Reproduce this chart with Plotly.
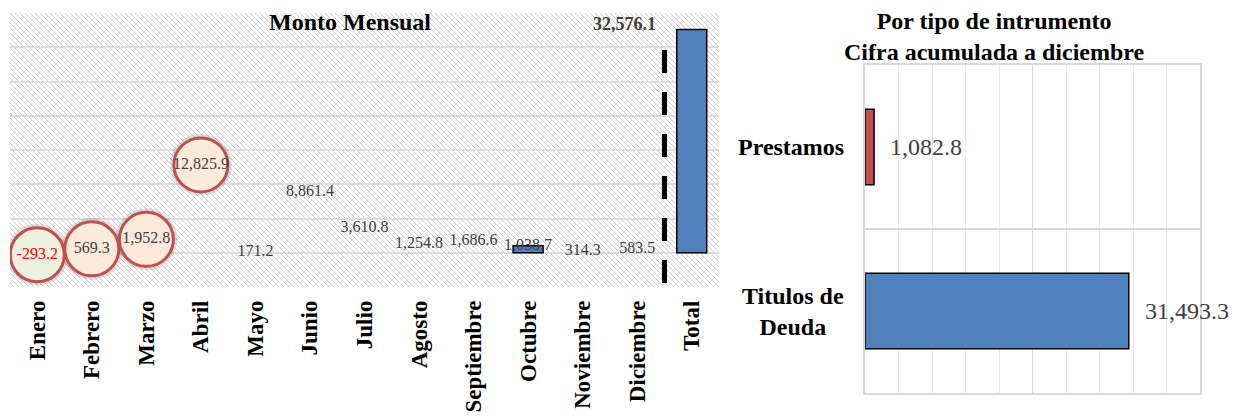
import base64
import textwrap
import plotly.graph_objects as go

# ---------------- data ----------------
meses = ["Enero", "Febrero", "Marzo", "Abril", "Mayo", "Junio", "Julio",
         "Agosto", "Septiembre", "Octubre", "Noviembre", "Diciembre"]
monto_mensual = [-293.2, 569.3, 1952.8, 12825.9, 171.2, 8861.4, 3610.8,
                 1254.8, 1686.6, 1038.7, 314.3, 583.5]
etiqueta_total = "Total"
monto_total = 32576.1
meses_resaltados = ["Enero", "Febrero", "Marzo", "Abril"]
mes_barra = "Octubre"

instrumentos = ["Prestamos", "Titulos de Deuda"]
monto_instrumento = [1082.8, 31493.3]

titulo_izq = "Monto Mensual"
titulo_der = "Por tipo de intrumento<br>Cifra acumulada a diciembre"

# ---------------- style ----------------
W, H = 1237, 417
OFF = 8  # browser body margin
FONT = "Liberation Serif, Times New Roman, serif"
BLUE = "#4F81BD"
RED = "#C0504D"
GRID = "#D9D9D9"
LBL = "#404040"

# left plot area in screen px
L_x0, L_x1, L_y0, L_y1 = 10, 719, 13, 287
# right plot area in screen px
R_x0, R_x1, R_y0, R_y1 = 865, 1200, 65, 393


def px_x(v):
    return (v - OFF) / W


def px_y(v):
    return 1 - (v - OFF) / H


fig = go.Figure()

# bars (only October and total visible)
cats = meses + [etiqueta_total]
vals = monto_mensual + [monto_total]
visible = [c == mes_barra or c == etiqueta_total for c in cats]
fig.add_trace(go.Bar(
    x=cats, y=vals, width=0.55,
    marker=dict(color=[BLUE if v else "rgba(0,0,0,0)" for v in visible],
                line=dict(color=["black" if v else "rgba(0,0,0,0)" for v in visible], width=1.5)),
    xaxis="x", yaxis="y", hoverinfo="skip", showlegend=False))

# circles
res_idx = [meses.index(m) for m in meses_resaltados]
fig.add_trace(go.Scatter(
    x=[meses[i] for i in res_idx], y=[monto_mensual[i] for i in res_idx],
    mode="markers",
    marker=dict(size=62, color="rgba(0,0,0,0.12)", line=dict(width=0)),
    xaxis="x", yaxis="y", hoverinfo="skip", showlegend=False))
fig.add_trace(go.Scatter(
    x=[meses[i] for i in res_idx], y=[monto_mensual[i] for i in res_idx],
    mode="markers",
    marker=dict(size=54,
                color=["#EBF1DE" if monto_mensual[i] < 0 else "#FDEADA" for i in res_idx],
                line=dict(color=RED, width=3)),
    xaxis="x", yaxis="y", hoverinfo="skip", showlegend=False))

# monthly labels
fig.add_trace(go.Scatter(
    x=meses, y=monto_mensual, mode="text",
    text=[f"{v:,.1f}" for v in monto_mensual],
    textposition="middle center",
    textfont=dict(family=FONT, size=16,
                  color=["#FF0000" if v < 0 else LBL for v in monto_mensual]),
    xaxis="x", yaxis="y", hoverinfo="skip", showlegend=False))

# right bars
fig.add_trace(go.Bar(
    y=instrumentos, x=monto_instrumento, orientation="h", width=0.46,
    marker=dict(color=[RED, BLUE], line=dict(color="black", width=1.5)),
    xaxis="x2", yaxis="y2", hoverinfo="skip", showlegend=False))

annotations = []
annotations.append(dict(
    x=etiqueta_total, y=monto_total, xref="x", yref="y",
    text=f"<b>{monto_total:,.1f}</b>", showarrow=False,
    xanchor="right", yanchor="middle", xshift=-34, yshift=6,
    font=dict(family=FONT, size=18, color=LBL)))
annotations.append(dict(
    x=px_x(350), y=px_y(22), xref="paper", yref="paper",
    text=f"<b>{titulo_izq}</b>", showarrow=False,
    xanchor="center", yanchor="middle",
    font=dict(family=FONT, size=24, color="black")))
annotations.append(dict(
    x=px_x(994), y=px_y(36), xref="paper", yref="paper",
    text=f"<b>{titulo_der}</b>", showarrow=False,
    xanchor="center", yanchor="middle", align="center",
    font=dict(family=FONT, size=24, color="black")))
for cat, v in zip(instrumentos, monto_instrumento):
    annotations.append(dict(
        x=v, y=cat, xref="x2", yref="y2", text=f"{v:,.1f}",
        showarrow=False, xanchor="left", yanchor="middle", xshift=14,
        font=dict(family=FONT, size=24, color=LBL)))
    annotations.append(dict(
        x=px_x(846), y=cat, xref="paper", yref="y2",
        text="<b>" + "<br>".join(textwrap.wrap(cat, 10)) + "</b>",
        showarrow=False, xanchor="right", yanchor="middle", align="center",
        font=dict(family=FONT, size=24, color="black")))

# hatch background as svg image
pw, ph = L_x1 - L_x0, L_y1 - L_y0
svg = (f'<svg xmlns="http://www.w3.org/2000/svg" width="{pw}" height="{ph}">'
       '<defs><pattern id="p" patternUnits="userSpaceOnUse" width="5" height="5">'
       '<path d="M-1,-1 L6,6 M-1,4 L1,6 M4,-1 L6,1" stroke="#D0D0D0" stroke-width="1"/>'
       '</pattern></defs>'
       f'<rect width="{pw}" height="{ph}" fill="white"/>'
       f'<rect width="{pw}" height="{ph}" fill="url(#p)"/></svg>')
src = "data:image/svg+xml;base64," + base64.b64encode(svg.encode()).decode()

fig.update_layout(
    width=W, height=H,
    margin=dict(l=0, r=0, t=0, b=0),
    paper_bgcolor="white", plot_bgcolor="rgba(0,0,0,0)",
    font=dict(family=FONT),
    showlegend=False,
    barmode="overlay",
    images=[dict(source=src, xref="paper", yref="paper",
                 x=px_x(L_x0), y=px_y(L_y0), sizex=pw / W, sizey=ph / H,
                 xanchor="left", yanchor="top", sizing="stretch", layer="below")],
    xaxis=dict(domain=[px_x(L_x0), px_x(L_x1)], type="category",
               categoryorder="array", categoryarray=cats,
               range=[-0.5, len(cats) - 0.5],
               tickangle=-90, showgrid=False, zeroline=False, showline=False,
               ticks="", ticklabelstandoff=8,
               tickfont=dict(family=FONT, size=23, color="black", weight="bold")),
    yaxis=dict(domain=[px_y(L_y1), px_y(L_y0)], range=[-5000, 35000],
               dtick=5000, showticklabels=False, showgrid=True,
               gridcolor="#DCDCDC", gridwidth=2, zeroline=True,
               zerolinecolor="#DCDCDC", zerolinewidth=2, showline=False),
    xaxis2=dict(domain=[px_x(R_x0), px_x(R_x1)], range=[0, 40000], dtick=20000,
                showticklabels=False, showgrid=True, gridcolor="#DADADA",
                gridwidth=1.2, zeroline=False, showline=True, mirror=True,
                linecolor=GRID, linewidth=1.5, anchor="y2",
                minor=dict(dtick=4000, showgrid=True, gridcolor="#E8E8E8", gridwidth=1)),
    yaxis2=dict(domain=[px_y(R_y1), px_y(R_y0)], type="category",
                categoryorder="array", categoryarray=instrumentos,
                autorange="reversed", tickson="boundaries",
                showticklabels=False, showgrid=True, gridcolor=GRID,
                gridwidth=1.5, showline=True, mirror=True, linecolor=GRID,
                linewidth=1.5, anchor="x2"),
    annotations=annotations,
    shapes=[dict(type="line", xref="x", yref="y",
                 x0=len(meses) - 0.5, x1=len(meses) - 0.5,
                 y0=29600, y1=-5000,
                 line=dict(color="black", width=5, dash="23px,19px"))],
)

fig.write_html("out.html")
